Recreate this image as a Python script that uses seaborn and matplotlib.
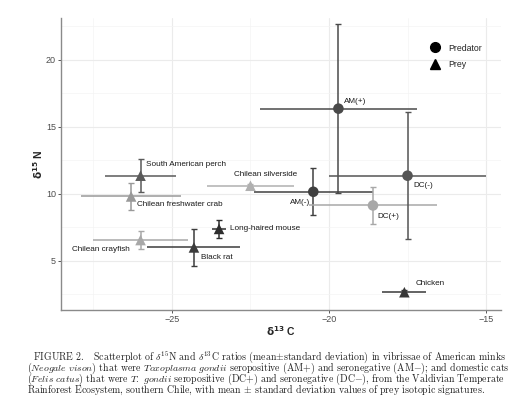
import matplotlib
matplotlib.use("Agg")
import matplotlib.pyplot as plt
import seaborn as sns
import pandas as pd
from matplotlib.lines import Line2D

# isotopic signatures, mean and sd
labels = ["AM(+)", "AM(-)", "DC(+)", "DC(-)",
          "South American perch", "Chilean freshwater crab", "Chilean crayfish",
          "Black rat", "Long-haired mouse", "Chilean silverside", "Chicken"]
groups = ["Predator"] * 4 + ["Prey"] * 7
c13_mean = [-19.7, -20.5, -18.6, -17.5, -26.0, -26.3, -26.0, -24.3, -23.5, -22.5, -17.6]
c13_sd = [2.5, 1.9, 2.05, 2.5, 1.12, 1.6, 1.5, 1.48, 0.22, 1.37, 0.7]
n15_mean = [16.35, 10.15, 9.13, 11.35, 11.35, 9.8, 6.55, 6.0, 7.38, 10.6, 2.66]
n15_sd = [6.3, 1.75, 1.35, 4.75, 1.25, 1.0, 0.68, 1.4, 0.68, 0.12, 0.15]
colours = ["#4a4a4a", "#404040", "#a8a8a8", "#555555",
           "#5a5a5a", "#999999", "#a8a8a8", "#3c3c3c", "#2e2e2e", "#b0b0b0", "#383838"]
# label offsets in points (dx, dy, ha)
offsets = [(4, 5, "left"), (-2, -8, "right"), (3, -8, "left"), (4, -7, "left"),
           (4, 8, "left"), (4, -6, "left"), (-8, -7, "right"),
           (5, -7, "left"), (8, 0, "left"), (-12, 8, "left"), (8, 6, "left")]

caption_lines = [
    r"FIGURE 2.   Scatterplot of $\delta^{15}$N and $\delta^{13}$C ratios (mean$\pm$standard deviation) in vibrissae of American minks",
    r"($\mathit{Neogale\ vison}$) that were $\mathit{Toxoplasma\ gondii}$ seropositive (AM+) and seronegative (AM$-$); and domestic cats",
    r"($\mathit{Felis\ catus}$) that were $\mathit{T.\ gondii}$ seropositive (DC+) and seronegative (DC$-$), from the Valdivian Temperate",
    r"Rainforest Ecosystem, southern Chile, with mean $\pm$ standard deviation values of prey isotopic signatures.",
]

df = pd.DataFrame({"label": labels, "group": groups, "c13": c13_mean,
                   "n15": n15_mean, "c13_sd": c13_sd, "n15_sd": n15_sd})

sns.set_style("white")
plt.rcParams["font.family"] = ["Liberation Sans", "DejaVu Sans"]

fig = plt.figure(figsize=(5.22, 4.03), dpi=100)
ax = fig.add_axes([0.117, 0.231, 0.843, 0.724])

for i, row in df.iterrows():
    ax.errorbar(row["c13"], row["n15"], yerr=row["n15_sd"], fmt="none",
                ecolor=colours[i], elinewidth=1.1, capsize=2.2, capthick=1.0, zorder=2)
    ax.errorbar(row["c13"], row["n15"], xerr=row["c13_sd"], fmt="none",
                ecolor=colours[i], elinewidth=1.1, capsize=0, zorder=2)

sns.scatterplot(data=df, x="c13", y="n15", hue="label", palette=dict(zip(labels, colours)),
                style="group", markers={"Predator": "o", "Prey": "^"}, s=58,
                edgecolor="none", legend=False, ax=ax, zorder=3)

for i, row in df.iterrows():
    dx, dy, ha = offsets[i]
    ax.annotate(row["label"], (row["c13"], row["n15"]), xytext=(dx, dy),
                textcoords="offset points", ha=ha, va="center", fontsize=5.9, color="#1a1a1a")

ax.set_xlim(-28.53, -14.52)
ax.set_ylim(1.34, 23.1)
ax.set_xticks([-25, -20, -15])
ax.set_yticks([5, 10, 15, 20])
ax.set_xticks([-27.5, -22.5, -17.5], minor=True)
ax.set_yticks([2.5, 7.5, 12.5, 17.5, 22.5], minor=True)
ax.grid(True, which="major", color="#ebebeb", lw=0.8)
ax.grid(True, which="minor", color="#f4f4f4", lw=0.5)
ax.set_axisbelow(True)
for s in ["top", "right"]:
    ax.spines[s].set_visible(False)
for s in ["left", "bottom"]:
    ax.spines[s].set_color("#8a8a8a")
    ax.spines[s].set_linewidth(1.0)
ax.tick_params(which="major", length=2.2, width=0.7, color="#555555", labelsize=6.5,
               labelcolor="#4d4d4d", pad=1.5, bottom=True, left=True)
ax.tick_params(which="minor", length=0)
ax.set_xlabel(r"$\mathbf{\delta^{13}}$ C", fontsize=7.5, fontweight="bold", labelpad=0)
ax.set_ylabel(r"$\mathbf{\delta^{15}}$ N", fontsize=7.5, fontweight="bold", labelpad=1)

handles = [Line2D([], [], marker="o", color="black", ls="none", markersize=7),
           Line2D([], [], marker="^", color="black", ls="none", markersize=7)]
ax.legend(handles, ["Predator", "Prey"], loc="upper right", bbox_to_anchor=(0.975, 0.94),
          frameon=False, fontsize=6.3, handletextpad=0.5, labelspacing=0.85)

# caption as one block
plt.rcParams["mathtext.fontset"] = "cm"
caption = "\n".join(["  " + caption_lines[0]] + caption_lines[1:])
fig.text(27 / 522, 1 - 349 / 403, caption, family="cmr10", fontsize=7.1,
         color="#222222", va="top", ha="left", linespacing=0.6)

fig.savefig("out.png", dpi=100)
